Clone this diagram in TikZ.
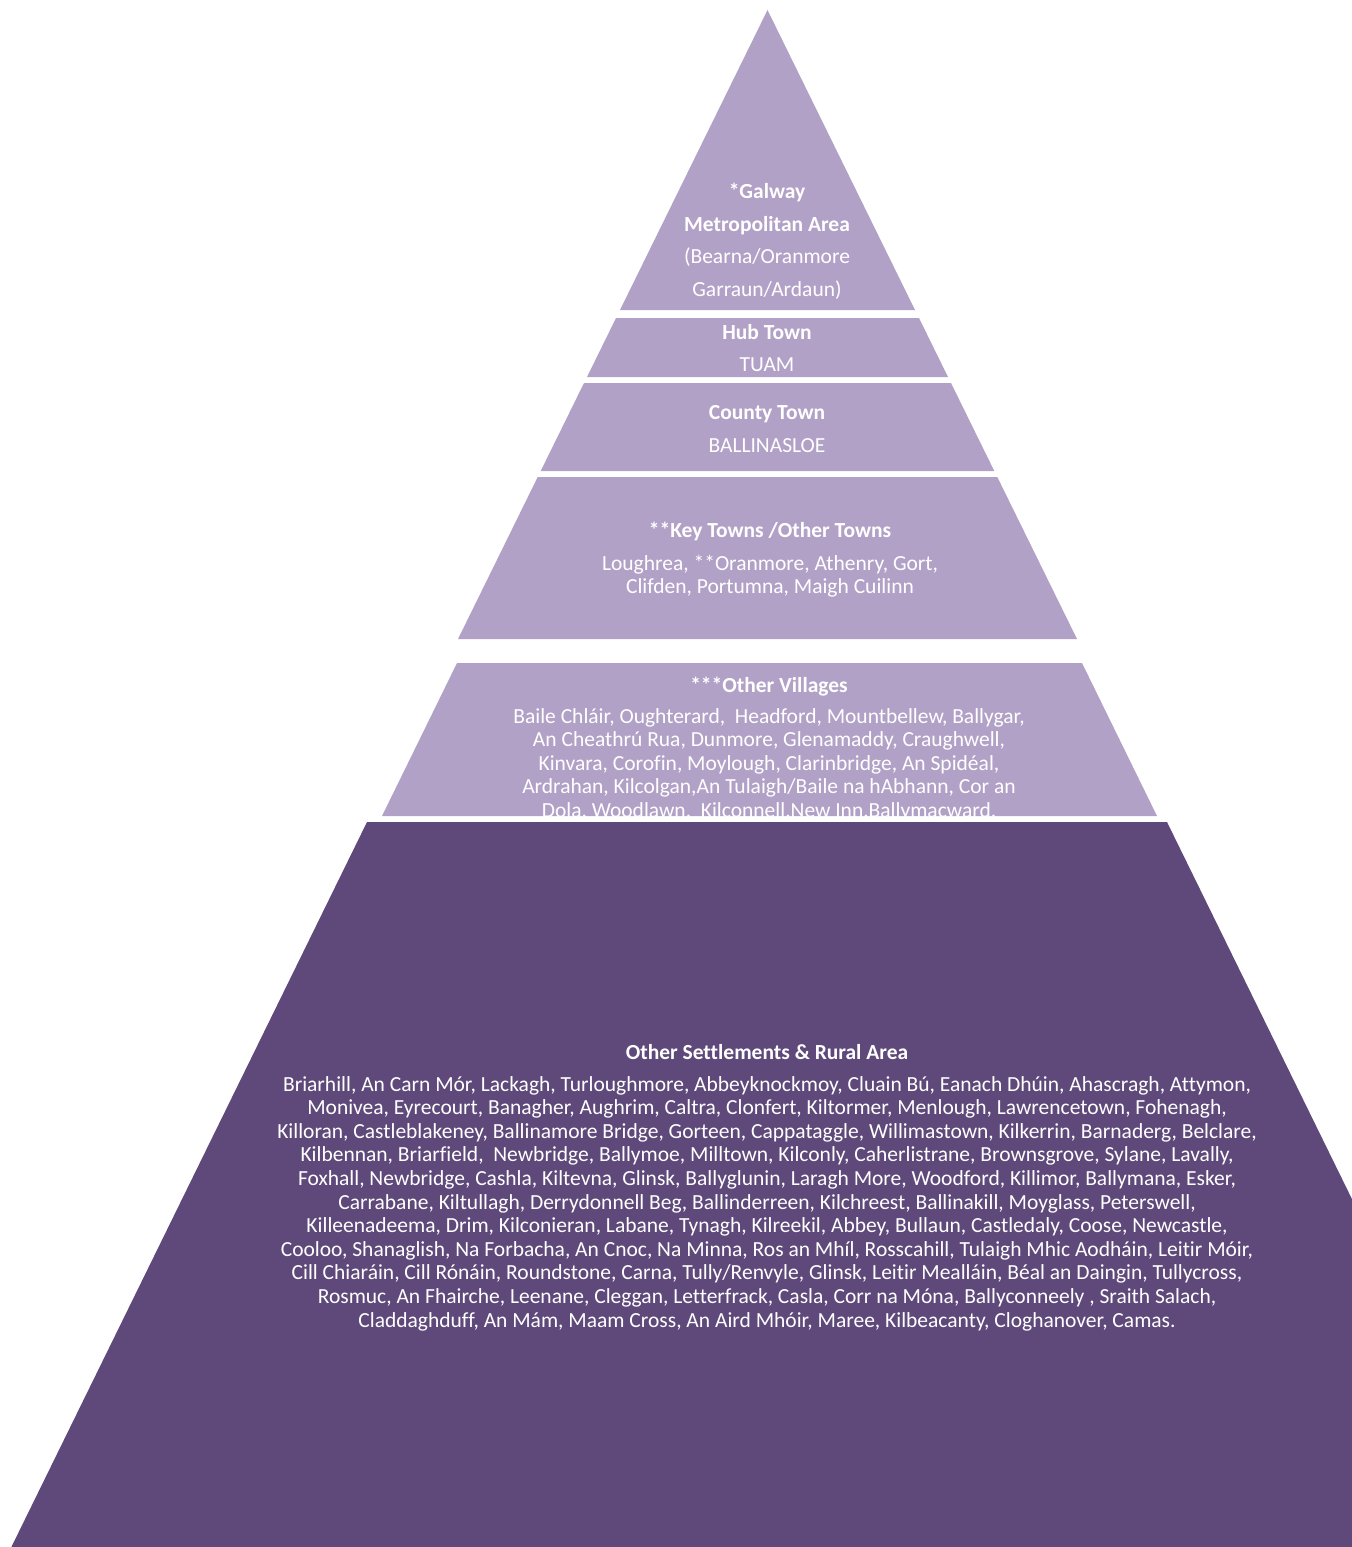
\documentclass[tikz,border=0pt]{standalone}
\usepackage{fontspec}
\setmainfont{Carlito}[Ligatures={TeX,NoCommon}]
\definecolor{lightpurple}{HTML}{B2A1C7}
\definecolor{darkpurple}{HTML}{5F497A}
\begin{document}
\begin{tikzpicture}[x=0.5pt,y=-0.5pt,
  light/.style={fill=lightpurple},
  dark/.style={fill=darkpurple},
  txt/.style={text=white,inner sep=0pt,anchor=base},
  body/.style={txt,font=\fontsize{10.75}{12.5}\selectfont},
  head/.style={txt,font=\bfseries\fontsize{10.75}{12.5}\selectfont},
  topbody/.style={txt,font=\fontsize{10.75}{12.5}\selectfont},
  tophead/.style={txt,font=\bfseries\fontsize{10.75}{12.5}\selectfont}]
\useasboundingbox (0,0) rectangle (1352,1547);
\clip (0,0) rectangle (1352,1547);
% bands
\fill[light] (767.5,10) -- (620,310) -- (915,310) -- cycle;
\fill[light] (616,318) -- (919,318) -- (948,377) -- (587,377) -- cycle;
\fill[light] (584,383) -- (951,383) -- (994.3,471) -- (540.7,471) -- cycle;
\fill[light] (537.7,477) -- (997.3,477) -- (1077,639) -- (458,639) -- cycle;
\fill[light] (457,663) -- (1082,663) -- (1157,816) -- (382,816) -- cycle;
\fill[dark] (367,822) -- (1167,822) -- (1529,1560) -- (5,1560) -- cycle;
% top
\node[tophead] (g1) at (767,198) {*Galway};
\node[tophead] (g2) at (767,231) {Metropolitan Area};
\node[topbody] (g3) at (767,263) {(Bearna/Oranmore};
\node[topbody] (g4) at (767,296) {Garraun/Ardaun)};
\node[tophead] (h1) at (767,339) {Hub Town};
\node[topbody] (h2) at (767,371) {TUAM};
\node[tophead] (c1) at (767,419) {County Town};
\node[topbody] (c2) at (767,452) {BALLINASLOE};
\node[head] (k1) at (770,537) {**Key Towns /Other Towns};
\node[body] (k2) at (770,570) {Loughrea, **Oranmore, Athenry, Gort,};
\node[body] (k3) at (770,593) {Clifden, Portumna, Maigh Cuilinn};
\node[head] (v0) at (769,692) {***Other Villages};
\begin{scope}
\clip (457,663) -- (1082,663) -- (1157,816) -- (382,816) -- cycle;
\foreach \t [count=\i] in {
  {Baile Chláir, Oughterard,\ \ Headford, Mountbellew, Ballygar,},
  {An Cheathrú Rua, Dunmore, Glenamaddy, Craughwell,},
  {Kinvara, Corofin, Moylough, Clarinbridge, An Spidéal,},
  {Ardrahan, Kilcolgan,An Tulaigh/Baile na hAbhann, Cor an},
  {Dola, Woodlawn,\ \ Kilconnell,New Inn,Ballymacward,}}
  \node[body] (v\i) at (769,{723.5+23.4*(\i-1)}) {\t};
\end{scope}
\node[head] (r0) at (767,1059) {Other Settlements \& Rural Area};
\foreach \t [count=\i] in {
  {Briarhill, An Carn Mór, Lackagh, Turloughmore, Abbeyknockmoy, Cluain Bú, Eanach Dhúin, Ahascragh, Attymon,},
  {Monivea, Eyrecourt, Banagher, Aughrim, Caltra, Clonfert, Kiltormer, Menlough, Lawrencetown, Fohenagh,},
  {Killoran, Castleblakeney, Ballinamore Bridge, Gorteen, Cappataggle, Willimastown, Kilkerrin, Barnaderg, Belclare,},
  {Kilbennan, Briarfield,\ \ Newbridge, Ballymoe, Milltown, Kilconly, Caherlistrane, Brownsgrove, Sylane, Lavally,},
  {Foxhall, Newbridge, Cashla, Kiltevna, Glinsk, Ballyglunin, Laragh More, Woodford, Killimor, Ballymana, Esker,},
  {Carrabane, Kiltullagh, Derrydonnell Beg, Ballinderreen, Kilchreest, Ballinakill, Moyglass, Peterswell,},
  {Killeenadeema, Drim, Kilconieran, Labane, Tynagh, Kilreekil, Abbey, Bullaun, Castledaly, Coose, Newcastle,},
  {Cooloo, Shanaglish, Na Forbacha, An Cnoc, Na Minna, Ros an Mhíl, Rosscahill, Tulaigh Mhic Aodháin, Leitir Móir,},
  {Cill Chiaráin, Cill Rónáin, Roundstone, Carna, Tully/Renvyle, Glinsk, Leitir Mealláin, Béal an Daingin, Tullycross,},
  {Rosmuc, An Fhairche, Leenane, Cleggan, Letterfrack, Casla, Corr na Móna, Ballyconneely , Sraith Salach,},
  {Claddaghduff, An Mám, Maam Cross, An Aird Mhóir, Maree, Kilbeacanty, Cloghanover, Camas.}}
  \node[body] (r\i) at (767,{1091+23.6*(\i-1)}) {\t};
\end{tikzpicture}
\end{document}
